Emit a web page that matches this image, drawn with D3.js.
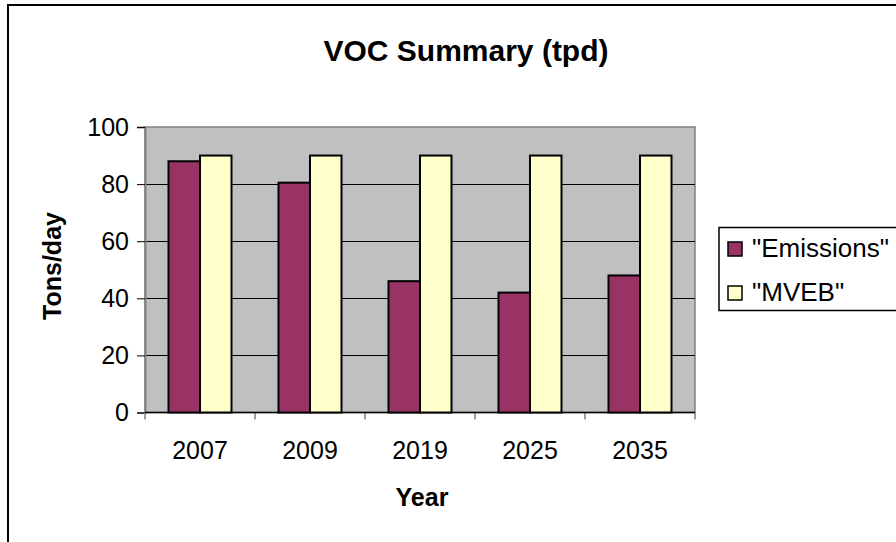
<!DOCTYPE html>
<html>
<head>
<meta charset="utf-8">
<title>VOC Summary (tpd)</title>
<style>
  body { margin: 0; background: #fff; }
  text { font-family: 'Liberation Sans', Arial, sans-serif; fill: #000; }
</style>
<script src="https://d3js.org/d3.v7.min.js"></script>
</head>
<body>
<div id="chart"></div>
<script>
var years = ["2007", "2009", "2019", "2025", "2035"];
var seriesNames = ['"Emissions"', '"MVEB"'];
var emissions = [88, 80.5, 46, 42, 48];
var mveb = [90, 90, 90, 90, 90];
var yTicks = [0, 20, 40, 60, 80, 100];
var colors = ["#993366", "#FFFFCC"];

var W = 896, H = 542;
var plot = {left: 145, right: 695, top: 127, bottom: 412.5};

var svg = d3.select("#chart").append("svg")
    .attr("width", W)
    .attr("height", H);

// outer chart border (runs off the right and bottom)
svg.append("rect")
    .attr("x", 8).attr("y", 5)
    .attr("width", W + 20).attr("height", H + 20)
    .attr("fill", "#fff")
    .attr("stroke", "#000")
    .attr("stroke-width", 2);

var x0 = d3.scaleBand().domain(years).range([plot.left, plot.right]).padding(0);
var x1 = d3.scaleBand().domain([0, 1]).range([23.5, 86.5]).padding(0);
var y = d3.scaleLinear().domain([0, 100]).range([plot.bottom, plot.top]);

// plot area
svg.append("rect")
    .attr("x", plot.left).attr("y", plot.top)
    .attr("width", plot.right - plot.left).attr("height", plot.bottom - plot.top)
    .attr("fill", "#C0C0C0")
    .attr("stroke", "#808080")
    .attr("stroke-width", 1.5);

// gridlines
svg.append("g").selectAll("line")
    .data(yTicks.filter(d => d > 0 && d < 100))
    .join("line")
    .attr("x1", plot.left).attr("x2", plot.right)
    .attr("y1", d => Math.round(y(d)) + 0.5).attr("y2", d => Math.round(y(d)) + 0.5)
    .attr("stroke", "#000").attr("stroke-width", 1);

// y axis
var yAxis = svg.append("g")
    .attr("transform", "translate(" + plot.left + ",0)")
    .call(d3.axisLeft(y).tickValues(yTicks).tickSize(8).tickPadding(8));
yAxis.select(".domain").attr("stroke", "#808080").attr("stroke-width", 2);
yAxis.selectAll(".tick line").attr("stroke", "#000");
yAxis.selectAll(".tick text")
    .attr("font-size", 25)
    .attr("font-family", "'Liberation Sans', Arial, sans-serif")
    .attr("fill", "#000");

// x axis
var xAxis = svg.append("g")
    .attr("transform", "translate(0," + plot.bottom + ")")
    .call(d3.axisBottom(x0).tickSize(0).tickPadding(24));
xAxis.select(".domain").remove();
xAxis.selectAll(".tick text")
    .attr("font-size", 25)
    .attr("dy", "0.9em")
    .attr("font-family", "'Liberation Sans', Arial, sans-serif")
    .attr("fill", "#000");

// category separators under the axis
var bounds = years.map(d => x0(d)).concat([plot.right]);
svg.append("g").selectAll("line")
    .data(bounds)
    .join("line")
    .attr("x1", d => d).attr("x2", d => d)
    .attr("y1", plot.bottom).attr("y2", plot.bottom + 7)
    .attr("stroke", "#808080").attr("stroke-width", 1.5);

svg.append("line")
    .attr("x1", plot.left).attr("x2", plot.right)
    .attr("y1", plot.bottom).attr("y2", plot.bottom)
    .attr("stroke", "#000").attr("stroke-width", 1.5);

// bars
var rows = years.map((yr, i) => ({year: yr, values: [emissions[i], mveb[i]]}));
svg.append("g").selectAll("g")
    .data(rows)
    .join("g")
    .attr("transform", d => "translate(" + x0(d.year) + ",0)")
    .selectAll("rect")
    .data(d => d.values.map((v, k) => ({k: k, v: v})))
    .join("rect")
    .attr("x", d => x1(d.k))
    .attr("width", x1.bandwidth())
    .attr("y", d => y(d.v))
    .attr("height", d => y(0) - y(d.v))
    .attr("fill", d => colors[d.k])
    .attr("stroke", "#000")
    .attr("stroke-width", 2);

// title
svg.append("text")
    .attr("x", 466).attr("y", 61)
    .attr("text-anchor", "middle")
    .attr("font-size", 30).attr("font-weight", "bold")
    .text("VOC Summary (tpd)");

// axis titles
svg.append("text")
    .attr("transform", "translate(61,266) rotate(-90)")
    .attr("text-anchor", "middle")
    .attr("font-size", 25).attr("font-weight", "bold")
    .text("Tons/day");

svg.append("text")
    .attr("x", 422).attr("y", 506)
    .attr("text-anchor", "middle")
    .attr("font-size", 25).attr("font-weight", "bold")
    .text("Year");

// legend
var legend = svg.append("g");
legend.append("rect")
    .attr("x", 719).attr("y", 227.5)
    .attr("width", 200).attr("height", 83)
    .attr("fill", "#fff")
    .attr("stroke", "#000").attr("stroke-width", 1.5);

var items = legend.selectAll("g.item")
    .data(seriesNames)
    .join("g")
    .attr("class", "item")
    .attr("transform", (d, i) => "translate(728," + (242 + i * 44) + ")");
items.append("rect")
    .attr("width", 14).attr("height", 14)
    .attr("fill", (d, i) => colors[i])
    .attr("stroke", "#000").attr("stroke-width", 1.5);
items.append("text")
    .attr("x", 24).attr("y", 15)
    .attr("font-size", 26)
    .text(d => d);
</script>
</body>
</html>
